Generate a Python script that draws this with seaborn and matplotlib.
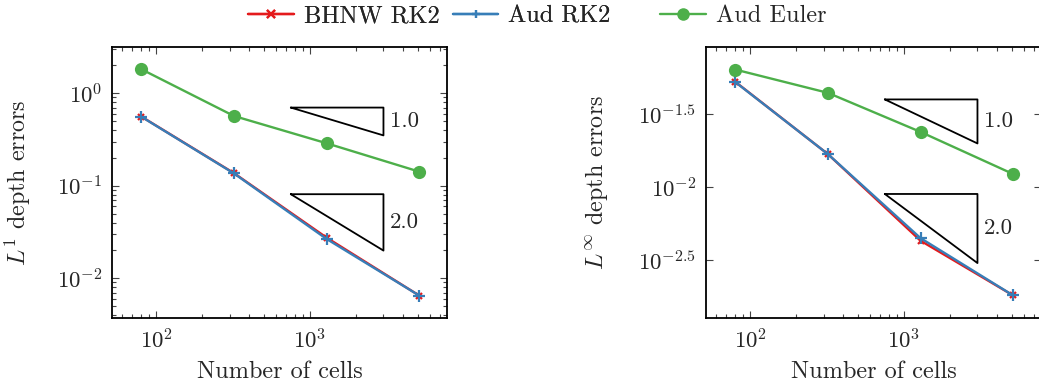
import numpy as np
import pandas as pd
import matplotlib
import matplotlib.pyplot as plt
import matplotlib.ticker as mticker
import seaborn as sns

# Data
cells = [80, 320, 1280, 5120]

l1_bhnw_rk2 = [0.560, 0.137, 0.0275, 0.0065]
l1_aud_rk2 = [0.558, 0.136, 0.0266, 0.0065]
l1_aud_euler = [1.82, 0.568, 0.288, 0.142]

linf_bhnw_rk2 = [0.0530, 0.0169, 0.00430, 0.00181]
linf_aud_rk2 = [0.0528, 0.0169, 0.00448, 0.00181]
linf_aud_euler = [0.0643, 0.0445, 0.0240, 0.01233]

series_names = ["BHNW RK2", "Aud RK2", "Aud Euler"]

# slope triangles: (x0, x1, y_top, y_bottom, label)
l1_triangles = [(750, 3000, 0.70, 0.35, "1.0"), (750, 3000, 0.081, 0.0199, "2.0")]
linf_triangles = [(750, 3000, 0.0401, 0.0200, "1.0"), (750, 3000, 0.0090, 0.00302, "2.0")]

linf_yticks = [10 ** -1.5, 10 ** -2.0, 10 ** -2.5]
linf_yticklabels = [r"$10^{-1.5}$", r"$10^{-2}$", r"$10^{-2.5}$"]

sns.set_theme(style="ticks")
plt.rcParams["font.family"] = "serif"
plt.rcParams["font.serif"] = ["cmr10"]
plt.rcParams["mathtext.fontset"] = "cm"
plt.rcParams["axes.formatter.use_mathtext"] = True
plt.rcParams["axes.unicode_minus"] = False

palette = sns.color_palette("Set1")
styles = {
    "BHNW RK2": dict(color=palette[0], marker="x", markersize=5, markeredgewidth=1.6,
                     markeredgecolor=palette[0]),
    "Aud RK2": dict(color=palette[1], marker="+", markersize=8, markeredgewidth=1.6,
                    markeredgecolor=palette[1]),
    "Aud Euler": dict(color=palette[2], marker="o", markersize=9.5, markeredgewidth=0,
                      markeredgecolor=palette[2]),
}

fig = plt.figure(figsize=(10.39, 3.87), dpi=100)
ax1 = fig.add_axes([112 / 1039, 69 / 387, 335 / 1039, 271 / 387])
ax2 = fig.add_axes([706 / 1039, 69 / 387, 335 / 1039, 271 / 387])


def draw(ax, values, triangles, ylabel, ylabel_x):
    df = pd.DataFrame({"cells": cells * 3,
                       "error": sum(values, []),
                       "method": np.repeat(series_names, len(cells))})
    for name in series_names:
        sub = df[df["method"] == name]
        sns.lineplot(data=sub, x="cells", y="error", ax=ax, linewidth=1.7,
                     label=name, legend=False, **styles[name])
    for x0, x1, ytop, ybot, txt in triangles:
        ax.plot([x0, x1, x1, x0], [ytop, ytop, ybot, ytop], color="black", lw=1.3)
        ax.text(x1 * 1.1, np.sqrt(ytop * ybot), txt, fontsize=16.5,
                ha="left", va="center")
    ax.set_xscale("log")
    ax.set_yscale("log")
    ax.set_xlim(10 ** 1.713, 10 ** 3.89)
    ax.set_xlabel("Number of cells", fontsize=17.5, labelpad=6)
    ax.set_ylabel(ylabel, fontsize=17.3)
    ax.yaxis.set_label_coords(ylabel_x, 0.5)
    ax.tick_params(which="both", direction="in", top=True, right=True,
                   labelsize=16.5, width=0.8, color="#444444", pad=7)
    ax.tick_params(which="major", length=5)
    ax.tick_params(which="minor", length=3)
    for s in ax.spines.values():
        s.set_linewidth(1.3)
        s.set_color("black")


draw(ax1, [l1_bhnw_rk2, l1_aud_rk2, l1_aud_euler], l1_triangles,
     r"$L^1$ depth errors", -0.236)
ax1.set_ylim(10 ** -2.43, 10 ** 0.5)

draw(ax2, [linf_bhnw_rk2, linf_aud_rk2, linf_aud_euler], linf_triangles,
     r"$L^\infty$ depth errors", -0.287)
ax2.set_ylim(10 ** -2.897, 10 ** -1.037)
ax2.yaxis.set_major_locator(mticker.FixedLocator(linf_yticks))
ax2.yaxis.set_major_formatter(mticker.FixedFormatter(linf_yticklabels))
ax2.yaxis.set_minor_locator(mticker.NullLocator())

handles = ax1.get_lines()[:3]
leg1 = fig.legend(handles[:2], series_names[:2], ncol=2, loc="center left",
                  bbox_to_anchor=(248 / 1039, 1 - 16 / 387), frameon=False,
                  fontsize=17.5, handlelength=1.89, handletextpad=0.41,
                  columnspacing=0.53, borderpad=0, borderaxespad=0)
fig.add_artist(leg1)
for h in leg1.legend_handles:
    h.set_markersize(5.5)
fig.legend([handles[2]], [series_names[2]], loc="center left",
           bbox_to_anchor=(660 / 1039, 1 - 16 / 387), frameon=False,
           fontsize=17.5, handlelength=1.89, handletextpad=0.41, borderpad=0,
           borderaxespad=0, markerscale=0.95)

fig.savefig("out.png", dpi=100)
